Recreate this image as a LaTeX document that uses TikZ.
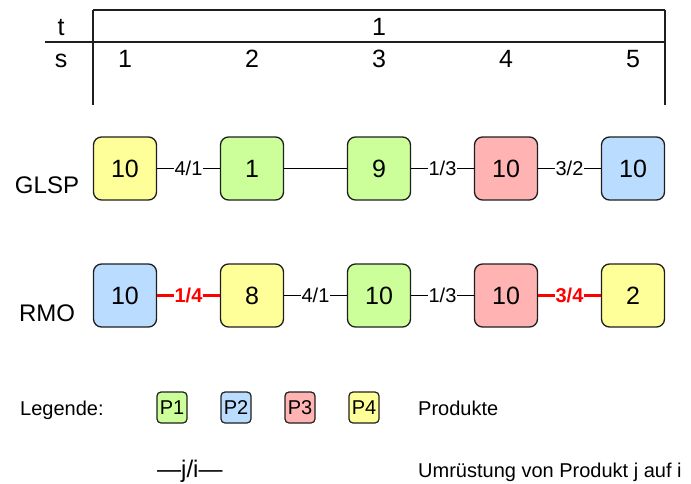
\documentclass[tikz,border=0pt]{standalone}
\usepackage{fontspec}
\setmainfont{Liberation Sans}
\definecolor{cyel}{RGB}{255,255,153}
\definecolor{cgrn}{RGB}{204,255,153}
\definecolor{cred}{RGB}{255,179,179}
\definecolor{cblu}{RGB}{185,220,255}
\definecolor{edge}{RGB}{30,30,30}
\begin{document}
\begin{tikzpicture}[x=1pt,y=-1pt,
  prod/.style={draw=edge,line width=1.3pt,rounded corners=8pt,minimum width=63pt,minimum height=63pt,inner sep=0pt,font=\fontsize{25}{29}\selectfont},
  leg/.style={draw=edge,line width=1.2pt,rounded corners=4pt,minimum width=30pt,minimum height=31pt,inner sep=0pt,font=\fontsize{20}{24}\selectfont},
  conn/.style={draw=black,line width=1pt},
  redconn/.style={draw=red,line width=3pt},
  lbl/.style={fill=white,inner sep=0.6pt,font=\fontsize{20}{23}\selectfont},
  redlbl/.style={fill=white,inner sep=0.6pt,text=red,font=\fontsize{20}{23}\selectfont\bfseries},
  txt/.style={inner sep=0pt,font=\fontsize{25}{29}\selectfont},
  big/.style={inner sep=0pt,font=\fontsize{24}{28}\selectfont},
  small/.style={inner sep=0pt,font=\fontsize{20}{24}\selectfont}]
\useasboundingbox (0,0) rectangle (691,483);
% table
\coordinate (tl) at (93,10);
\coordinate (tr) at (665,10);
\coordinate (ml) at (45,42);
\coordinate (mr) at (665,42);
\coordinate (bl) at (93,105);
\coordinate (br) at (665,105);
\draw[line width=1.3pt,edge] (tl) -- (tr);
\draw[line width=1.3pt,edge] (ml) -- (mr);
\draw[line width=1.3pt,edge] (tl) -- (bl);
\draw[line width=1.3pt,edge] (tr) -- (br);
\node[txt,anchor=base] (tlab) at (61,35) {t};
\node[txt,anchor=base] (slab) at (61,67) {s};
\node[txt,anchor=base] (t1) at (379,35) {1};
\node[txt,anchor=base] (s1) at (125,67) {1};
\node[txt,anchor=base] (s2) at (252,67) {2};
\node[txt,anchor=base] (s3) at (379,67) {3};
\node[txt,anchor=base] (s4) at (506,67) {4};
\node[txt,anchor=base] (s5) at (633,67) {5};
% GLSP row
\node[big,anchor=base] (glsp) at (47,193) {GLSP};
\node[prod,fill=cyel] (g1) at (125,168.5) {10};
\node[prod,fill=cgrn] (g2) at (252,168.5) {1};
\node[prod,fill=cgrn] (g3) at (379,168.5) {9};
\node[prod,fill=cred] (g4) at (506,168.5) {10};
\node[prod,fill=cblu] (g5) at (633,168.5) {10};
\draw[conn] (g1) -- node[lbl]{4/1} (g2);
\draw[conn] (g2) -- (g3);
\draw[conn] (g3) -- node[lbl]{1/3} (g4);
\draw[conn] (g4) -- node[lbl]{3/2} (g5);
% RMO row
\node[big,anchor=base] (rmo) at (47,321) {RMO};
\node[prod,fill=cblu] (r1) at (125,295.5) {10};
\node[prod,fill=cyel] (r2) at (252,295.5) {8};
\node[prod,fill=cgrn] (r3) at (379,295.5) {10};
\node[prod,fill=cred] (r4) at (506,295.5) {10};
\node[prod,fill=cyel] (r5) at (633,295.5) {2};
\draw[redconn] (r1) -- node[redlbl]{1/4} (r2);
\draw[conn] (r2) -- node[lbl]{4/1} (r3);
\draw[conn] (r3) -- node[lbl]{1/3} (r4);
\draw[redconn] (r4) -- node[redlbl]{3/4} (r5);
% legend
\node[small,anchor=base west] (legende) at (20,415) {Legende:};
\node[leg,fill=cgrn] (p1) at (172,407.5) {P1};
\node[leg,fill=cblu] (p2) at (236,407.5) {P2};
\node[leg,fill=cred] (p3) at (300,407.5) {P3};
\node[leg,fill=cyel] (p4) at (364,407.5) {P4};
\node[small,anchor=base west] (produkte) at (418,415) {Produkte};
\node[small,anchor=base west,font=\fontsize{24}{28}\selectfont] (jline) at (157,477) {—j/i—};
\node[small,anchor=base west] (umr) at (418,477) {Umrüstung von Produkt j auf i};
\end{tikzpicture}
\end{document}
